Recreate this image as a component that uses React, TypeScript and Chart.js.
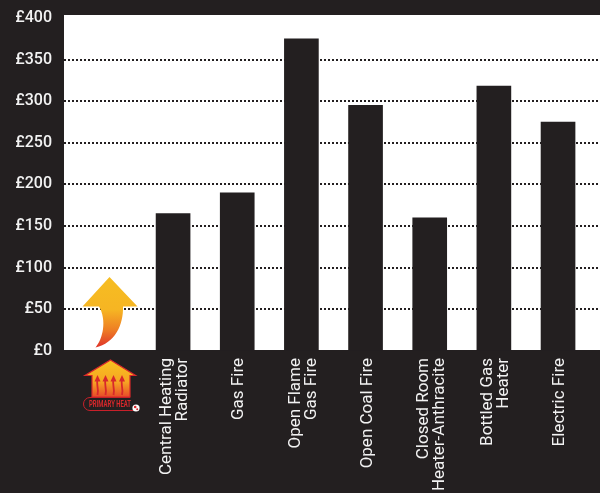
import { useEffect, useRef } from "react";
import { Chart, registerables, type Plugin } from "chart.js";

Chart.register(...registerables);

const categories: string[][] = [
  ["Central Heating", "Radiator"],
  ["Gas Fire"],
  ["Open Flame", "Gas Fire"],
  ["Open Coal Fire"],
  ["Closed Room", "Heater-Anthracite"],
  ["Bottled Gas", "Heater"],
  ["Electric Fire"],
];
const positions = [1, 2, 3, 4, 5, 6, 7];
const costs = [165, 190, 375, 295, 160, 318, 275];

const INK = "#231f20";
const FONT = "Roboto, 'Noto Sans', sans-serif";
const LABEL_LINE = 16;

// Upward heat arrow with a curved tail, sitting in the empty first slot.
function drawArrow(ctx: CanvasRenderingContext2D) {
  const g = ctx.createLinearGradient(0, 277, 0, 347);
  g.addColorStop(0, "#f6bd22");
  g.addColorStop(0.47, "#f6b523");
  g.addColorStop(0.75, "#ee7f24");
  g.addColorStop(1, "#e0352a");
  ctx.fillStyle = g;
  ctx.beginPath();
  ctx.moveTo(109.5, 277);
  ctx.lineTo(137.5, 306.5);
  ctx.lineTo(123, 306.5);
  ctx.bezierCurveTo(123.5, 325, 115, 343, 95.5, 347.5);
  ctx.bezierCurveTo(103, 339, 107, 320, 99, 306.5);
  ctx.lineTo(82.5, 306.5);
  ctx.closePath();
  ctx.fill();
}

// "Primary Heat" house badge below the axis.
function drawBadge(ctx: CanvasRenderingContext2D) {
  const body = ctx.createLinearGradient(0, 362, 0, 398);
  body.addColorStop(0, "#f8c020");
  body.addColorStop(0.55, "#f6a623");
  body.addColorStop(1, "#e8432a");
  ctx.fillStyle = body;
  ctx.strokeStyle = "#d8282b";
  ctx.lineWidth = 1.2;
  ctx.beginPath();
  ctx.moveTo(110.5, 360);
  ctx.lineTo(135.5, 375.5);
  ctx.lineTo(130, 375.5);
  ctx.lineTo(130, 397);
  ctx.lineTo(92, 397);
  ctx.lineTo(92, 375.5);
  ctx.lineTo(85, 375.5);
  ctx.closePath();
  ctx.fill();
  ctx.stroke();

  ctx.fillStyle = "#d8282b";
  ctx.strokeStyle = "#d8282b";
  ctx.lineWidth = 1.8;
  [97.5, 105.5, 113.5, 122].forEach((x) => {
    ctx.beginPath();
    ctx.moveTo(x, 380);
    ctx.bezierCurveTo(x - 1.8, 384, x + 1.8, 388, x, 395);
    ctx.stroke();
    ctx.beginPath();
    ctx.moveTo(x, 375);
    ctx.lineTo(x + 3, 381.5);
    ctx.lineTo(x - 3, 381.5);
    ctx.closePath();
    ctx.fill();
  });

  // Pill outline around the wordmark, open at the top right.
  ctx.strokeStyle = "#c8202a";
  ctx.lineWidth = 1;
  ctx.beginPath();
  ctx.moveTo(130, 397.5);
  ctx.lineTo(90, 397.5);
  ctx.arc(90, 404, 6.5, -Math.PI / 2, Math.PI / 2, true);
  ctx.lineTo(133, 410.5);
  ctx.stroke();

  ctx.fillStyle = "#d8282b";
  ctx.font = `bold 9px 'Liberation Sans Narrow', ${FONT}`;
  ctx.textAlign = "center";
  ctx.textBaseline = "middle";
  ctx.fillText("PRIMARY HEAT", 110, 404.5, 42);

  ctx.fillStyle = "#ffffff";
  ctx.beginPath();
  ctx.arc(136, 408, 3.6, 0, Math.PI * 2);
  ctx.fill();
  ctx.fillStyle = "#d8282b";
  ctx.beginPath();
  ctx.arc(135.2, 407, 1.3, 0, Math.PI * 2);
  ctx.arc(137.2, 409.2, 1, 0, Math.PI * 2);
  ctx.fill();
}

const artwork: Plugin<"bar"> = {
  id: "artwork",
  beforeDraw(chart) {
    const { ctx, chartArea, width, height } = chart;
    ctx.save();
    ctx.fillStyle = INK;
    ctx.fillRect(0, 0, width, height);
    // The white panel stops one pixel above the zero line.
    ctx.fillStyle = "#ffffff";
    ctx.fillRect(
      chartArea.left,
      chartArea.top,
      chartArea.right - chartArea.left,
      chartArea.bottom - chartArea.top - 1
    );
    ctx.restore();
  },
  afterDraw(chart) {
    const { ctx } = chart;
    ctx.save();
    drawArrow(ctx);
    drawBadge(ctx);
    ctx.restore();
  },
};

const X_MIN = -0.7;
const X_MAX = 7.654;
const UNIT_PX = 536 / (X_MAX - X_MIN);

export default function App() {
  const ref = useRef<HTMLCanvasElement>(null);

  useEffect(() => {
    if (!ref.current) return;
    const chart = new Chart(ref.current, {
      type: "bar",
      plugins: [artwork],
      data: {
        datasets: [
          {
            data: positions.map((x, i) => ({ x, y: costs[i] })),
            backgroundColor: INK,
            barThickness: 34,
            borderWidth: 0,
          },
        ],
      },
      options: {
        responsive: false,
        animation: false,
        layout: { padding: { top: 15, right: 0, left: 0, bottom: 0 } },
        plugins: { legend: { display: false }, tooltip: { enabled: false } },
        scales: {
          x: {
            type: "linear",
            min: X_MIN,
            max: X_MAX,
            offset: false,
            grid: { display: false, drawTicks: false },
            border: { display: false },
            // Rotated multi-line labels grow sideways from the tick, so the
            // tick is moved back to keep each label block centred on its bar.
            afterBuildTicks: (axis) => {
              axis.ticks = positions.map((p, i) => ({
                value: p + (2 - ((categories[i].length - 1) * LABEL_LINE) / 2) / UNIT_PX,
              }));
            },
            afterFit: (axis) => {
              axis.height = 142;
              axis.paddingLeft = 0;
              axis.paddingRight = 0;
            },
            ticks: {
              autoSkip: false,
              minRotation: 90,
              maxRotation: 90,
              padding: 7,
              color: "#f2f2f2",
              font: { family: FONT, size: 17, lineHeight: LABEL_LINE / 17 },
              callback: (_value, index) => categories[index] ?? "",
            },
          },
          y: {
            min: 0,
            max: 403.5,
            grid: {
              drawTicks: false,
              lineWidth: 2,
              color: (c) =>
                c.tick.value === 0 || c.tick.value >= 400 ? "transparent" : "#231f20",
            },
            border: { display: false, dash: [2, 2] },
            afterFit: (axis) => {
              axis.width = 64;
              axis.paddingTop = 0;
              axis.paddingBottom = 0;
            },
            ticks: {
              stepSize: 50,
              includeBounds: false,
              padding: 12,
              color: "#f2f2f2",
              font: { family: FONT, size: 16, weight: 500 },
              callback: (value) => `£${value}`,
            },
          },
        },
      },
    });
    return () => chart.destroy();
  }, []);

  return (
    <div style={{ position: "absolute", left: 0, top: 0, width: 600, height: 493, overflow: "hidden" }}>
      <canvas ref={ref} width={600} height={493} style={{ display: "block" }} />
    </div>
  );
}
